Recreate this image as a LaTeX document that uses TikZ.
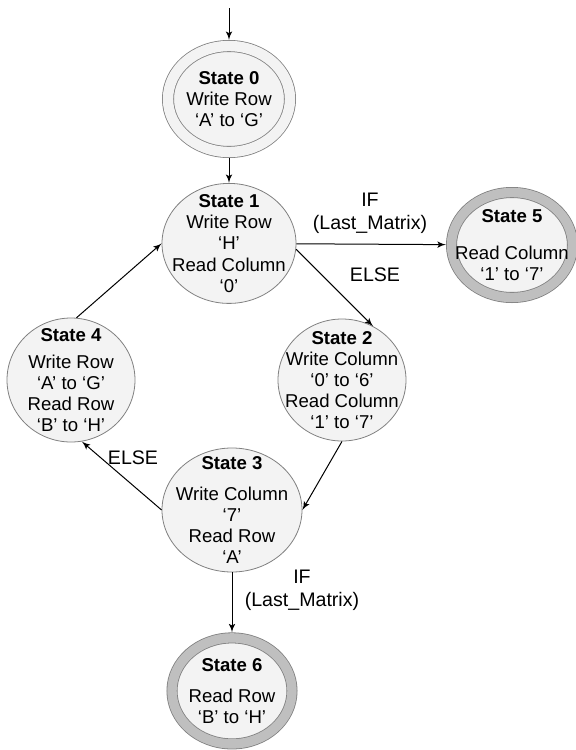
\documentclass[tikz,border=0pt]{standalone}
\usepackage{fontspec}
\setmainfont{Liberation Sans}
\usetikzlibrary{shapes.geometric,positioning,arrows}

\definecolor{rimgray}{RGB}{128,128,128}
\definecolor{bodygray}{RGB}{243,243,243}
\definecolor{ringgray}{RGB}{191,191,191}

\begin{document}
\begin{tikzpicture}[x=0.5pt,y=-0.5pt,
% State style
		state/.style={ellipse
							    , draw=rimgray
							    , fill=bodygray
							    , line width=0.4pt
							    , inner sep=0pt
							    , outer sep=0.2pt},
		start/.style={state
							    , double=bodygray
							    , double distance=5.2pt
							    , outer sep=3pt},
		final/.style={state
							    , double=ringgray
							    , double distance=4.7pt
							    , outer sep=2.75pt},
% Texts
		txt/.style={align=center
							    , font=\fontsize{9.3}{10.6}\selectfont
							    , inner sep=0pt},
		guard/.style={align=center
							    , font=\fontsize{9.8}{11.5}\selectfont
							    , inner sep=0pt},
% Edges
		arbre/.style={line width=0.5pt
			       			, >=latex'}
	]
	\useasboundingbox (0,0) rectangle (576,750);
%% Draw states
		\node [start, minimum width=61pt, minimum height=53pt] (s0) at (229,99)
			[label={[txt]center:{\textbf{State 0}\\Write Row\\`A' to `G'}}] {};
		\node [state, minimum width=67pt, minimum height=60pt] (s1) [below=12.5pt of s0]
			[label={[txt]center:{\textbf{State 1}\\Write Row\\`H'\\Read Column\\`0'}}] {};
		\node [final, minimum width=60.5pt, minimum height=52.5pt] (s5) at (512,245)
			[label={[txt]center:{\textbf{State 5}\\[8pt]Read Column\\`1' to `7'}}] {};
		\node [state, minimum width=64pt, minimum height=61pt] (s2) at (342,380)
			[label={[txt]center:{\textbf{State 2}\\Write Column\\`0' to `6'\\Read Column\\`1' to `7'}}] {};
		\node [state, minimum width=64pt, minimum height=62pt] (s4) at (71,380)
			[label={[txt]center:{\textbf{State 4}\\[3pt]Write Row\\`A' to `G'\\Read Row\\`B' to `H'}}] {};
		\node [state, minimum width=70pt, minimum height=62pt] (s3) at (232,510)
			[label={[txt]center:{\textbf{State 3}\\[5pt]Write Column\\`7'\\Read Row\\`A'}}] {};
		\node [final, minimum width=60pt, minimum height=53pt] (s6) [below=30pt of s3]
			[label={[txt]center:{\textbf{State 6}\\[5pt]Read Row\\`B' to `H'}}] {};

%% Draw transitions
		\begin{scope}[arbre]
			\coordinate (in) at (229,8);
			\draw [->] (in) -- (s0);
			\draw [->] (s0) -- (s1);
			\draw [->] (s1) -- (s5);
			\node [guard] (g1) at (370,213) {IF\\(Last\_Matrix)};
			\draw [->] (s1.-5) -- (s2.60);
			\node [guard] (e1) at (375,275) {ELSE};
			\draw [->] (s2.south) -- (s3.east);
			\draw [->] (s3.west) -- (s4.-80);
			\node [guard] (e2) at (133,458) {ELSE};
			\draw [->] (s4.85) -- (s1.west);
			\draw [->] (s3) -- (s6);
			\node [guard] (g2) at (302,590) {IF\\(Last\_Matrix)};
		\end{scope}
\end{tikzpicture}
\end{document}
